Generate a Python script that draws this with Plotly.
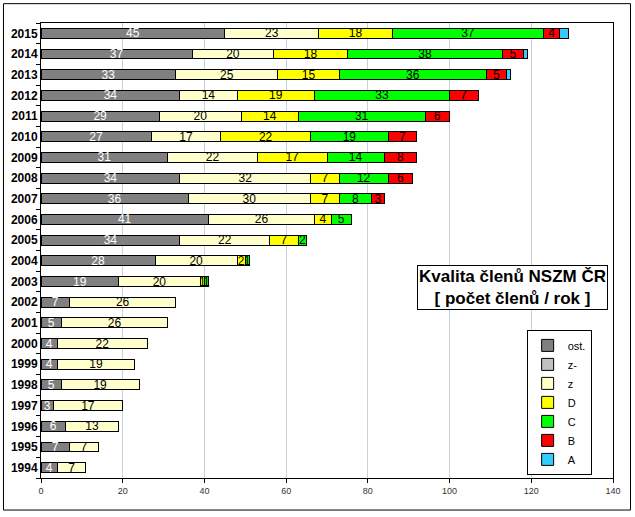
import plotly.graph_objects as go

years = [str(y) for y in range(1994, 2016)]
ost = [4, 7, 6, 3, 5, 4, 4, 5, 7, 19, 28, 34, 41, 36, 34, 31, 27, 29, 34, 33, 37, 45]
zminus = [0] * 22
z = [7, 7, 13, 17, 19, 19, 22, 26, 26, 20, 20, 22, 26, 30, 32, 22, 17, 20, 14, 25, 20, 23]
D = [0, 0, 0, 0, 0, 0, 0, 0, 0, 1, 2, 7, 4, 7, 7, 17, 22, 14, 19, 15, 18, 18]
C = [0, 0, 0, 0, 0, 0, 0, 0, 0, 1, 1, 2, 5, 8, 12, 14, 19, 31, 33, 36, 38, 37]
B = [0, 0, 0, 0, 0, 0, 0, 0, 0, 0, 0, 0, 0, 3, 6, 8, 7, 6, 7, 5, 5, 4]
A = [0, 0, 0, 0, 0, 0, 0, 0, 0, 0, 0, 0, 0, 0, 0, 0, 0, 0, 0, 1, 1, 2]

series = [
    ("ost.", ost, "#808080", "white", True),
    ("z-", zminus, "#C0C0C0", "black", False),
    ("z", z, "#FFFFCC", "black", True),
    ("D", D, "#FFFF00", "black", True),
    ("C", C, "#00FF00", "black", True),
    ("B", B, "#FF0000", "black", True),
    ("A", A, "#33CCFF", "black", False),
]

FONT = "Liberation Sans, Arial, sans-serif"

fig = go.Figure()
for name, vals, col, tcol, show_text in series:
    txt = [str(v) if (show_text and v > 0) else "" for v in vals]
    fig.add_trace(go.Bar(
        name=name, y=years, x=vals, orientation="h",
        marker=dict(color=col, line=dict(color="black", width=1)),
        text=txt, textposition="inside", insidetextanchor="middle",
        textangle=0, constraintext="none",
        textfont=dict(color=tcol, size=12, family=FONT),
        hoverinfo="skip",
    ))

fig.update_layout(
    barmode="stack",
    bargap=0.52,
    width=635, height=517,
    margin=dict(l=41, r=22, t=23, b=39, autoexpand=False),
    paper_bgcolor="white", plot_bgcolor="white",
    showlegend=True,
    legend=dict(
        x=0.849, y=0.3255, xanchor="left", yanchor="top",
        traceorder="normal",
        bordercolor="black", borderwidth=1, bgcolor="white",
        font=dict(family=FONT, size=11, color="black"),
        itemwidth=30,
    ),
    xaxis=dict(
        range=[0, 140], dtick=20, tick0=0,
        showgrid=True, gridcolor="#C8D0DC", gridwidth=1,
        zeroline=False,
        showline=True, linecolor="black", linewidth=1, mirror=True,
        ticks="outside", ticklen=4, tickcolor="black",
        tickfont=dict(family=FONT, size=9, color="#333333"),
    ),
    yaxis=dict(
        type="category", categoryorder="array", categoryarray=years,
        showline=True, linecolor="black", linewidth=1, mirror=True,
        ticks="outside", ticklen=4, tickcolor="black", tickson="boundaries",
        tickfont=dict(family=FONT, size=12, color="black", weight="bold"),
        showgrid=False, automargin=False,
    ),
    font=dict(family=FONT),
    annotations=[dict(
        xref="paper", yref="paper", x=0.824, y=0.418,
        xanchor="center", yanchor="middle", showarrow=False,
        text="<b>Kvalita členů NSZM ČR<br>[ počet členů / rok ]</b>",
        font=dict(family=FONT, size=17, color="black"),
        bordercolor="black", borderwidth=1, bgcolor="white", borderpad=1,
    )],
    shapes=[dict(
        type="rect", xref="paper", yref="paper",
        x0=-0.0656, x1=1.0306, y0=-0.0704, y1=1.0425,
        line=dict(color="black", width=1), fillcolor="rgba(0,0,0,0)", layer="below",
    )],
)

fig.write_html("out.html", config={"displayModeBar": False},
               post_script="document.body.style.margin='0';")
